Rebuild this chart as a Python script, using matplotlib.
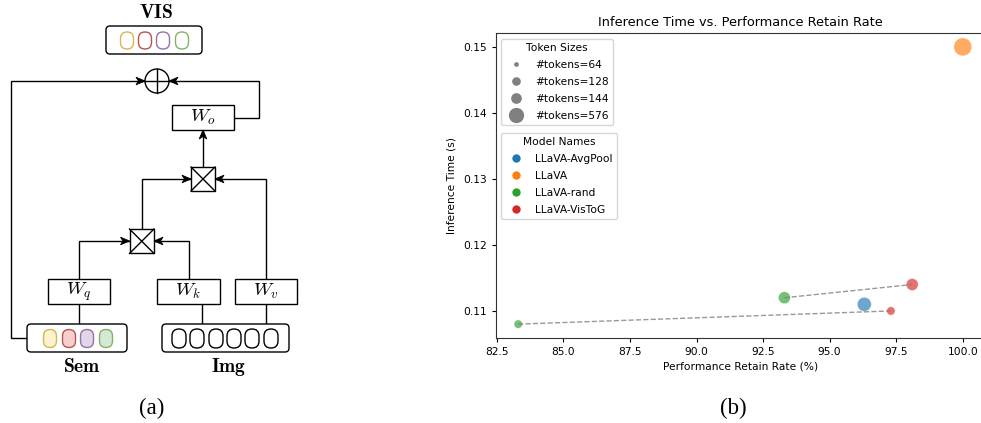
import matplotlib
matplotlib.use('Agg')
import matplotlib.pyplot as plt
from matplotlib.patches import FancyBboxPatch, Rectangle, Circle, Polygon
from matplotlib.lines import Line2D

plt.rcParams['mathtext.fontset'] = 'cm'
plt.rcParams['font.family'] = ['DejaVu Sans']

# ---------------- data ----------------
models = ['LLaVA-AvgPool', 'LLaVA', 'LLaVA-rand', 'LLaVA-VisToG']
model_colors = ['#1f77b4', '#ff7f0e', '#2ca02c', '#d62728']
token_sizes = [64, 128, 144, 576]

point_model = ['LLaVA', 'LLaVA-AvgPool', 'LLaVA-rand', 'LLaVA-rand', 'LLaVA-VisToG', 'LLaVA-VisToG']
point_tokens = [576, 144, 64, 128, 64, 128]
retain_rate = [100.0, 96.3, 83.3, 93.3, 97.3, 98.1]
inference_time = [0.150, 0.111, 0.108, 0.112, 0.110, 0.114]

title = 'Inference Time vs. Performance Retain Rate'
xlabel = 'Performance Retain Rate (%)'
ylabel = 'Inference Time (s)'

# ---------------- figure ----------------
W, H = 981, 423
fig = plt.figure(figsize=(W / 100, H / 100), dpi=100)
fig.patch.set_facecolor('white')

ax0 = fig.add_axes([0, 0, 1, 1])
ax0.set_xlim(0, W)
ax0.set_ylim(H, 0)
ax0.axis('off')

LW = 1.0
K = 'black'


def line(xs, ys):
    ax0.plot(xs, ys, color=K, lw=LW, solid_capstyle='butt', solid_joinstyle='miter')


def arrowhead(tip, d, L=9.0, hw=3.8, notch=2.5):
    tx, ty = tip
    dx, dy = d
    nx, ny = -dy, dx
    bx, by = tx - dx * L, ty - dy * L
    pts = [(tx, ty), (bx + nx * hw, by + ny * hw),
           (tx - dx * (L - notch), ty - dy * (L - notch)),
           (bx - nx * hw, by - ny * hw)]
    ax0.add_patch(Polygon(pts, closed=True, fc=K, ec=K, lw=0.6, zorder=5))


def path_arrow(xs, ys):
    line(xs, ys)
    dx = xs[-1] - xs[-2]
    dy = ys[-1] - ys[-2]
    n = (dx ** 2 + dy ** 2) ** 0.5
    arrowhead((xs[-1], ys[-1]), (dx / n, dy / n))


def rbox(x, y, w, h, r=4, fc='white', ec=K):
    ax0.add_patch(FancyBboxPatch((x, y), w, h, boxstyle=f'round,pad=0,rounding_size={r}',
                                 fc=fc, ec=ec, lw=LW, zorder=3))


def rect(x, y, w, h):
    ax0.add_patch(Rectangle((x, y), w, h, fc='white', ec=K, lw=LW, zorder=3))


def xbox(x, y, s):
    rect(x, y, s, s)
    ax0.plot([x, x + s], [y, y + s], color=K, lw=LW, zorder=4)
    ax0.plot([x, x + s], [y + s, y], color=K, lw=LW, zorder=4)


def oval(cx, cy, w, h, fc, ec):
    ax0.add_patch(FancyBboxPatch((cx - w / 2, cy - h / 2), w, h,
                                 boxstyle=f'round,pad=0,rounding_size={w / 2 - 0.01}',
                                 fc=fc, ec=ec, lw=LW, zorder=4))


edge_cols = ['#d6b656', '#b85450', '#9673a6', '#82b366']
fill_cols = ['#fff2cc', '#f8cecc', '#e1d5e7', '#d5e8d4']

# VIS
ax0.text(156, 12, r'$\mathbf{VIS}$', ha='center', va='center', fontsize=14)
rbox(106, 26, 96, 28)
for cx, ec in zip([127, 145, 163, 182], edge_cols):
    oval(cx, 40.5, 13, 17, 'white', ec)

# oplus
ax0.add_patch(Circle((157, 81), 12, fc='white', ec=K, lw=LW, zorder=3))
ax0.plot([145, 169], [81, 81], color=K, lw=LW, zorder=4)
ax0.plot([157, 157], [69, 93], color=K, lw=LW, zorder=4)

path_arrow([27, 11, 11, 145], [338, 338, 81, 81])
path_arrow([234, 259, 259, 169], [118, 118, 81, 81])

# Wo
rect(172, 105, 62, 25)
ax0.text(203, 117.5, r'$W_o$', ha='center', va='center', fontsize=13.5, zorder=5)
path_arrow([203, 203], [167, 130])

# multiplication boxes
xbox(191, 167, 24)
xbox(129.5, 229, 24.5)
path_arrow([142, 142, 191], [229, 179, 179])
path_arrow([266, 266, 215], [279, 179, 179])
path_arrow([79, 79, 129.5], [279, 241, 241])
path_arrow([189, 189, 154], [279, 241, 241])

# W boxes
for x0, w, lab in [(48, 62, r'$W_q$'), (157, 63, r'$W_k$'), (235, 62, r'$W_v$')]:
    rect(x0, 279, w, 25)
    ax0.text(x0 + w / 2, 291.5, lab, ha='center', va='center', fontsize=13.5, zorder=5)

line([79, 79], [304, 324])
line([202, 202], [304, 324])
line([266, 266], [304, 324])

# Sem / Img
rbox(27, 324, 100, 28)
for cx, fc, ec in zip([50, 69, 87, 106], fill_cols, edge_cols):
    oval(cx, 338.5, 13, 18, fc, ec)
rbox(162, 324, 127, 28)
for cx in [179, 197, 216, 234, 252, 271]:
    oval(cx, 338.5, 14, 19, 'white', K)

ax0.text(82, 367, r'$\mathbf{Sem}$', ha='center', va='center', fontsize=14)
ax0.text(229, 367, r'$\mathbf{Img}$', ha='center', va='center', fontsize=14)

ax0.text(152, 408, '(a)', ha='center', va='center', fontsize=16.5, family='Liberation Serif')
ax0.text(733, 408, '(b)', ha='center', va='center', fontsize=16.5, family='Liberation Serif')

# ---------------- chart ----------------
FS = 7.7
ax = fig.add_axes([496 / W, 1 - 338 / H, (985 - 496) / W, (338 - 33) / H])

size_map = {64: 37, 128: 75, 144: 102, 576: 168}
color_map = dict(zip(models, model_colors))

# dashed connections between rand and VisToG at equal token counts
for t in sorted(set(point_tokens)):
    xs = [retain_rate[i] for i in range(len(point_model))
          if point_tokens[i] == t and point_model[i] in ('LLaVA-rand', 'LLaVA-VisToG')]
    ys = [inference_time[i] for i in range(len(point_model))
          if point_tokens[i] == t and point_model[i] in ('LLaVA-rand', 'LLaVA-VisToG')]
    if len(xs) == 2:
        ax.plot(xs, ys, linestyle='--', color='gray', alpha=0.8, lw=1.0, zorder=3)

ax.scatter(retain_rate, inference_time,
           s=[size_map[t] for t in point_tokens],
           c=[color_map[m] for m in point_model],
           alpha=0.65, edgecolors='white', linewidths=0.4, zorder=2)

ax.set_xticks([82.5, 85.0, 87.5, 90.0, 92.5, 95.0, 97.5, 100.0])
ax.set_yticks([0.11, 0.12, 0.13, 0.14, 0.15])
ax.tick_params(labelsize=FS, length=3.2, width=0.8)
ax.set_title(title, fontsize=FS * 1.2, pad=5)
ax.set_xlabel(xlabel, fontsize=FS, labelpad=3)
ax.set_ylabel(ylabel, fontsize=FS, labelpad=5)
for sp in ax.spines.values():
    sp.set_linewidth(0.8)
    sp.set_color('#333333')

leg_ms = {64: 3.4, 128: 6.2, 144: 7.7, 576: 11.0}
h1 = [Line2D([], [], marker='o', linestyle='', color='gray', markeredgewidth=0,
             markersize=leg_ms[t]) for t in token_sizes]
leg1 = fig.legend(h1, [f'#tokens={t}' for t in token_sizes], title='Token Sizes',
                  loc='upper left', bbox_to_anchor=(501 / W, 1 - 39 / H),
                  bbox_transform=fig.transFigure, borderaxespad=0,
                  fontsize=FS, title_fontsize=FS, labelspacing=0.64,
                  edgecolor='#cccccc', framealpha=0.8)
h2 = [Line2D([], [], marker='o', linestyle='', color=c, markeredgewidth=0,
             markersize=6.0) for c in model_colors]
leg2 = fig.legend(h2, models, title='Model Names',
                  loc='upper left', bbox_to_anchor=(501 / W, 1 - 133 / H),
                  bbox_transform=fig.transFigure, borderaxespad=0,
                  fontsize=FS, title_fontsize=FS, labelspacing=0.64,
                  edgecolor='#cccccc', framealpha=0.8)

fig.savefig('out.png', dpi=100)
